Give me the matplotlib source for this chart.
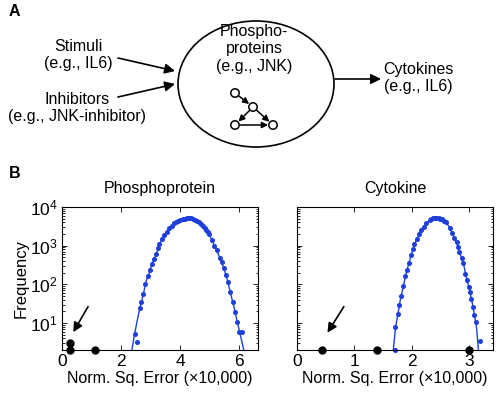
import matplotlib
matplotlib.use('Agg')
import matplotlib.pyplot as plt
from matplotlib.patches import Ellipse, Circle
import numpy as np

plt.rcParams['font.family'] = ['Liberation Sans', 'DejaVu Sans']
plt.rcParams['mathtext.fontset'] = 'custom'
plt.rcParams['mathtext.rm'] = 'Liberation Sans'
plt.rcParams['mathtext.it'] = 'Liberation Sans:italic'
plt.rcParams['mathtext.bf'] = 'Liberation Sans:bold'
plt.rcParams['font.size'] = 11.5

# Phosphoprotein histogram (frequency per bin) and fitted curve
phos_x = [2.46, 2.55, 2.63, 2.68, 2.76, 2.82, 2.93, 2.98, 3.04, 3.11, 3.19, 3.24,
          3.30, 3.39, 3.47, 3.56, 3.64, 3.71, 3.80, 3.87, 3.94, 4.01, 4.08, 4.15,
          4.22, 4.29, 4.36, 4.43, 4.50, 4.57, 4.64, 4.71, 4.77, 4.83, 4.88, 4.94,
          4.99, 5.07, 5.16, 5.24, 5.33, 5.41, 5.47, 5.56, 5.61, 5.69, 5.78, 5.86,
          5.93, 6.00, 6.08]
phos_y = [5.1, 3.2, 24, 35, 55, 104, 167, 230, 330, 450, 600, 850,
          1090, 1480, 1900, 2300, 2800, 3300, 3800, 4150, 4450, 4750, 4900, 5000,
          5100, 5130, 5050, 4850, 4600, 4350, 4050, 3600, 3300, 2900, 2500, 2200,
          1950, 1390, 1000, 770, 490, 370, 270, 174, 112, 62, 34, 19,
          10.4, 6, 6]
phos_fit_x = [2.37, 2.46, 2.55, 2.65, 2.75, 2.85, 2.95, 3.05, 3.2, 3.35, 3.5, 3.65,
              3.8, 3.95, 4.1, 4.25, 4.4, 4.55, 4.7, 4.85, 5.0, 5.1, 5.2, 5.3,
              5.4, 5.5, 5.6, 5.7, 5.8, 5.9, 6.0, 6.08, 6.15]
phos_fit_y = [2.0, 5.1, 11.5, 27, 52, 120, 190, 340, 630, 1290, 2040, 2880,
              3800, 4470, 4900, 5130, 4680, 4270, 3630, 2690, 1820, 1260, 870, 575,
              370, 230, 126, 59, 30, 13.5, 6.3, 3.4, 2.0]
phos_black_x = [0.28, 0.28, 1.12]
phos_black_y = [3.1, 2, 2]

# Cytokine histogram and fitted curve
cyto_x = [1.705, 1.716, 1.757, 1.785, 1.82, 1.855, 1.89, 1.92, 1.949, 1.99, 2.02,
          2.048, 2.094, 2.124, 2.17, 2.21, 2.255, 2.31, 2.34, 2.37, 2.40, 2.43,
          2.47, 2.50, 2.53, 2.57, 2.60, 2.66, 2.70, 2.73, 2.78, 2.81, 2.83, 2.87,
          2.90, 2.93, 2.96, 2.99, 3.02, 3.04, 3.07, 3.09, 3.12, 3.19]
cyto_y = [2, 8, 17, 29.5, 51, 92, 165, 228, 350, 570, 815,
          1080, 1530, 1950, 2520, 3080, 3770, 4500, 4800, 5100, 5250, 5300,
          5150, 4950, 4800, 4350, 4000, 2900, 2190, 1590, 1220, 900, 680, 490,
          350, 190, 128, 87, 64, 42, 26, 16, 10.5, 3.5]
cyto_fit_x = [1.68, 1.72, 1.76, 1.80, 1.85, 1.90, 1.95, 2.0, 2.05, 2.10, 2.15, 2.2,
              2.25, 2.3, 2.35, 2.4, 2.45, 2.5, 2.55, 2.6, 2.65, 2.7, 2.75, 2.8,
              2.85, 2.9, 2.95, 3.0, 3.05, 3.1, 3.13, 3.16]
cyto_fit_y = [2, 7.9, 16.6, 38, 83, 182, 347, 631, 1070, 1620, 2290, 2950,
              3720, 4370, 5010, 5370, 5250, 4900, 4570, 3980, 3090, 2190, 1445, 1000,
              575, 347, 151, 79, 35, 13.8, 7.1, 2]
cyto_black_x = [0.44, 1.40, 3.0]
cyto_black_y = [2, 2, 2]

blue = '#1f3fdc'

fig = plt.figure(figsize=(4.98, 3.95), dpi=100)

# ---- panel A drawn in pixel coordinates on an overlay ----
ov = fig.add_axes([0, 0, 1, 1])
ov.set_xlim(0, 498)
ov.set_ylim(395, 0)
ov.axis('off')

ov.text(9, 12, 'A', fontsize=11.5, fontweight='bold', va='center', ha='left')
ov.text(9, 174, 'B', fontsize=11.5, fontweight='bold', va='center', ha='left')

ov.add_patch(Ellipse((256, 84), 156, 126, fill=False, lw=1.2, color='k'))

ov.text(78, 55, 'Stimuli\n(e.g., IL6)', ha='center', va='center', linespacing=1.2)
ov.text(77, 108, 'Inhibitors\n(e.g., JNK-inhibitor)', ha='center', va='center', linespacing=1.2)
ov.text(254, 49, 'Phospho-\nproteins\n(e.g., JNK)', ha='center', va='center', linespacing=1.2)
ov.text(418, 78, 'Cytokines\n(e.g., IL6)', ha='center', va='center', linespacing=1.2)

arr = dict(arrowstyle='-|>', lw=1.2, color='k', mutation_scale=15, shrinkA=0, shrinkB=0)
ov.annotate('', xy=(175, 71), xytext=(118, 58), arrowprops=arr)
ov.annotate('', xy=(175, 84), xytext=(118, 97), arrowprops=arr)
ov.annotate('', xy=(381, 79), xytext=(335, 79), arrowprops=arr)

nodes = [(235, 93), (253, 107), (235, 125), (273, 125)]
for nx, ny in nodes:
    ov.add_patch(Circle((nx, ny), 4.2, facecolor='white', edgecolor='k', lw=1.1, zorder=3))
small = dict(arrowstyle='-|>', lw=1.1, color='k', mutation_scale=9, shrinkA=3.5, shrinkB=3.5)
for a, b in [(0, 1), (1, 2), (1, 3), (2, 3)]:
    ov.annotate('', xy=nodes[b], xytext=nodes[a], arrowprops=small)

# ---- panel B ----
def style(ax, xmax):
    ax.set_yscale('log')
    ax.set_ylim(2, 1e4)
    ax.set_xlim(0, xmax)
    ax.tick_params(which='both', direction='in', top=True, right=True, width=0.6)
    ax.tick_params(which='major', length=3.5, labelsize=12.5, pad=3)
    ax.tick_params(which='minor', length=1.8)
    for s in ax.spines.values():
        s.set_linewidth(0.8)

axL = fig.add_axes([0.1239, 0.1139, 0.3948, 0.362])
style(axL, 6.64)
axL.plot(phos_fit_x, phos_fit_y, color=blue, lw=1.0)
axL.plot(phos_x, phos_y, 'o', color=blue, ms=2.6, mec=blue)
axL.plot(phos_black_x, phos_black_y, 'o', color='k', ms=5, clip_on=False, zorder=5)
axL.set_xticks([0, 2, 4, 6])
axL.set_yticks([10, 100, 1000, 10000])
axL.set_ylabel('Frequency', fontsize=12, labelpad=1)
axL.set_xlabel('Norm. Sq. Error (×10,000)', fontsize=11.5, labelpad=1)
axL.set_title('Phosphoprotein', fontsize=11.5, pad=10)
axL.annotate('', xy=(0.39, 5.8), xytext=(0.89, 26.5),
             arrowprops=dict(arrowstyle='-|>', lw=1.2, color='k', mutation_scale=14,
                             shrinkA=0, shrinkB=0))

axR = fig.add_axes([0.5958, 0.1139, 0.3948, 0.362])
style(axR, 3.42)
axR.plot(cyto_fit_x, cyto_fit_y, color=blue, lw=1.0)
axR.plot(cyto_x, cyto_y, 'o', color=blue, ms=2.6, mec=blue, clip_on=False)
axR.plot(cyto_black_x, cyto_black_y, 'o', color='k', ms=5, clip_on=False, zorder=5)
axR.set_xticks([0, 1, 2, 3])
axR.set_yticks([10, 100, 1000, 10000])
axR.set_yticklabels([])
axR.tick_params(which='minor', labelleft=False)
axR.set_xlabel('Norm. Sq. Error (×10,000)', fontsize=11.5, labelpad=1)
axR.set_title('Cytokine', fontsize=11.5, pad=10)
axR.annotate('', xy=(0.535, 5.6), xytext=(0.82, 26.5),
             arrowprops=dict(arrowstyle='-|>', lw=1.2, color='k', mutation_scale=14,
                             shrinkA=0, shrinkB=0))

fig.savefig('out.png', dpi=100)
